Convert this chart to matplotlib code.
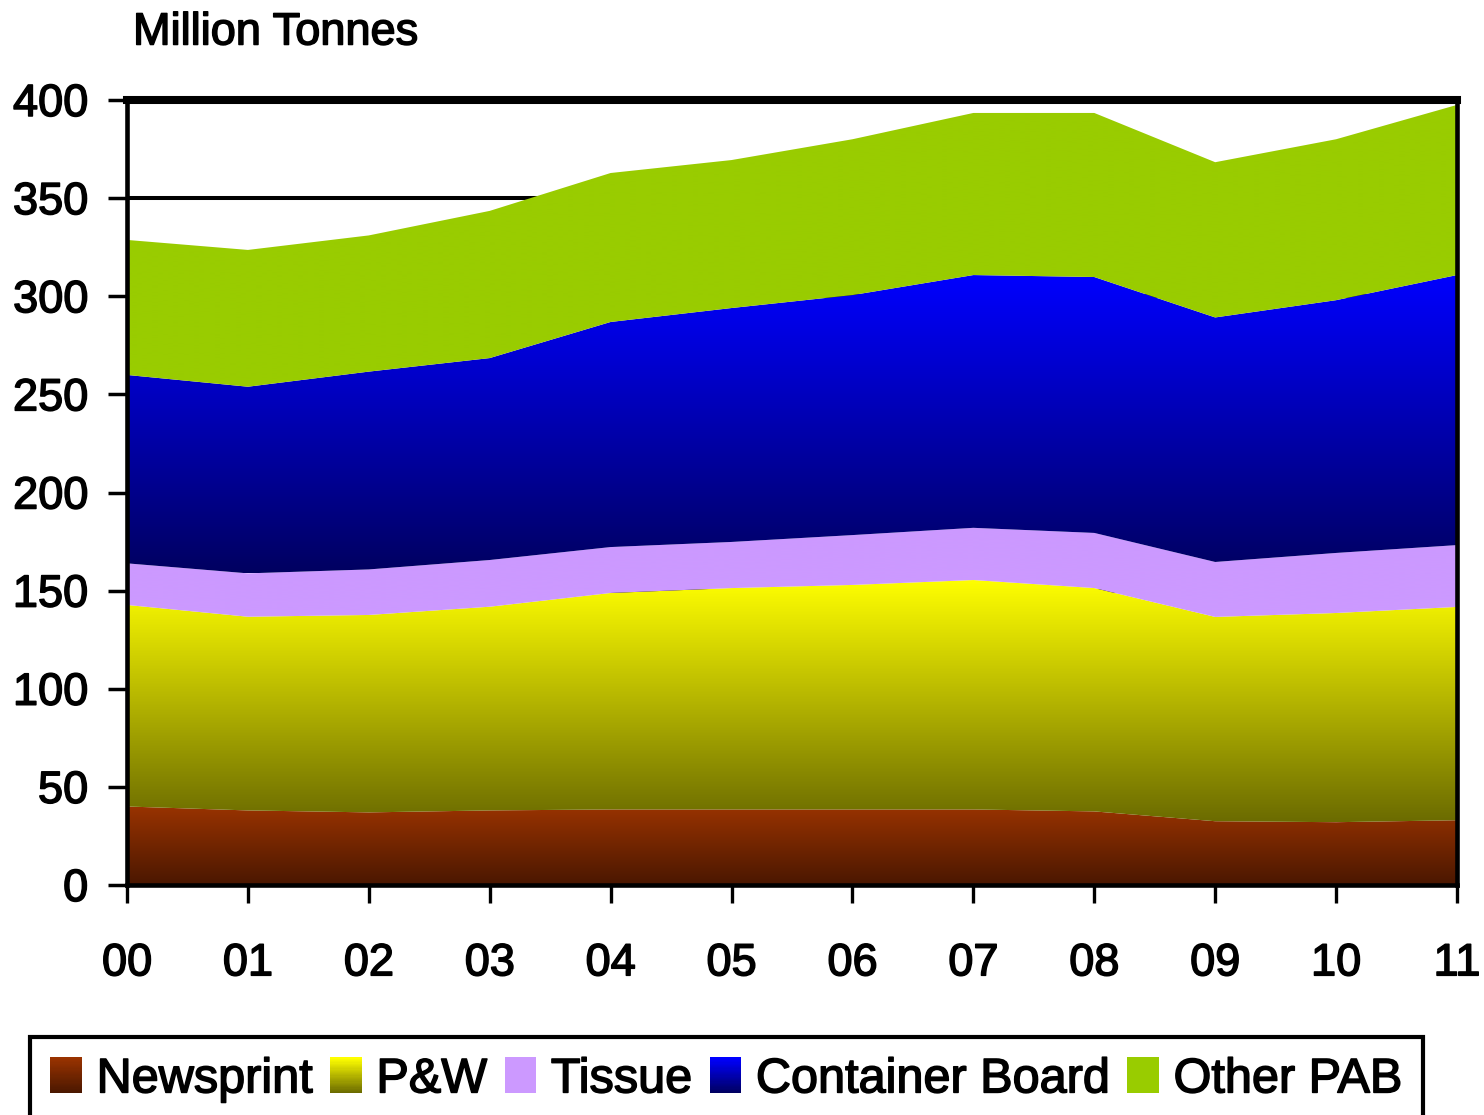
import numpy as np
import matplotlib
matplotlib.use("Agg")
import matplotlib.pyplot as plt
import matplotlib.patheffects as pe
from matplotlib.colors import LinearSegmentedColormap, to_rgb
from matplotlib.patches import PathPatch, Patch, Rectangle
from matplotlib.legend_handler import HandlerBase

plt.rcParams['font.family'] = ['Liberation Sans', 'DejaVu Sans']

# ---------------- data ----------------
years = ['00', '01', '02', '03', '04', '05', '06', '07', '08', '09', '10', '11']
series_names = ['Newsprint', 'P&W', 'Tissue', 'Container Board', 'Other PAB']
newsprint = [40.0, 38.0, 37.0, 38.0, 38.5, 38.5, 38.5, 38.5, 37.5, 32.5, 32.0, 33.0]
pw = [102.7, 98.7, 100.6, 103.8, 110.3, 112.8, 114.4, 116.9, 113.8, 104.1, 106.6, 108.7]
tissue = [21.2, 22.1, 23.2, 23.8, 23.4, 23.5, 25.4, 26.6, 28.1, 28.0, 30.6, 31.5]
container = [96.0, 95.1, 100.8, 102.9, 114.7, 119.2, 122.3, 128.8, 130.4, 124.6, 128.8, 137.6]
other = [68.8, 69.7, 69.4, 75.0, 75.9, 75.4, 79.4, 82.6, 83.6, 79.1, 82.0, 86.7]
y_ticks = [0, 50, 100, 150, 200, 250, 300, 350, 400]

# (top colour, bottom colour) per series
colors = [('#993300', '#4a1700'),
          ('#ffff00', '#6b6b00'),
          ('#cc99ff', '#cc99ff'),
          ('#0000ff', '#000060'),
          ('#99cc00', '#99cc00')]

W, H = 1484, 1115
fig = plt.figure(figsize=(W / 100, H / 100), dpi=100)
ax = fig.add_axes([127 / W, 1 - 885 / H, (1457 - 127) / W, (885 - 100) / H])

x = np.arange(len(years))
layers = [newsprint, pw, tissue, container, other]
base = np.zeros(len(years))
for vals, (ctop, cbot) in zip(layers, colors):
    top = base + np.array(vals)
    poly = ax.fill_between(x, base, top, facecolor='none', edgecolor='none', zorder=2)
    verts = poly.get_paths()[0]
    clip = PathPatch(verts, transform=ax.transData, facecolor='none', edgecolor='none')
    cmap = LinearSegmentedColormap.from_list('g', [cbot, ctop])
    grad = np.linspace(0, 1, 256).reshape(-1, 1)
    im = ax.imshow(grad, extent=[x[0], x[-1], base.min(), top.max()], origin='lower',
                   aspect='auto', cmap=cmap, zorder=2, interpolation='bilinear')
    im.set_clip_path(clip)
    base = top

ax.set_xlim(x[0], x[-1])
ax.set_ylim(0, 400)
ax.set_yticks(y_ticks)
ax.set_xticks(x)
ax.set_xticklabels(years)

ax.yaxis.grid(True, color='black', linewidth=2.9)
ax.set_axisbelow(True)

for side in ['left', 'right', 'bottom']:
    ax.spines[side].set_linewidth(3.3)
    ax.spines[side].set_zorder(5)
ax.spines['top'].set_linewidth(5.8)
ax.spines['top'].set_zorder(5)

heavy = [pe.withStroke(linewidth=1.1, foreground='black')]

ax.tick_params(axis='y', length=14, width=2.5, pad=14, labelsize=32.5, direction='out')
ax.tick_params(axis='x', length=13, width=2.4, pad=29, labelsize=32.5, direction='out')
for lab in ax.get_xticklabels() + ax.get_yticklabels():
    lab.set_path_effects(heavy)

fig.text(133 / W, 1 - 33 / H, 'Million Tonnes', fontsize=32.5, ha='left', va='center',
         path_effects=heavy)


class GradientHandler(HandlerBase):
    def __init__(self, ctop, cbot):
        super().__init__()
        self.ctop = np.array(to_rgb(ctop))
        self.cbot = np.array(to_rgb(cbot))

    def create_artists(self, legend, orig_handle, xdescent, ydescent, width, height,
                       fontsize, trans):
        n = 30
        arts = []
        for i in range(n):
            f = i / (n - 1)
            c = self.cbot * (1 - f) + self.ctop * f
            r = Rectangle((-xdescent, -ydescent + height * i / n), width, height / n + 0.3,
                          facecolor=c, edgecolor='none', transform=trans)
            arts.append(r)
        return arts


handles = [Patch(facecolor=c[0]) for c in colors]
hmap = {h: GradientHandler(*c) for h, c in zip(handles, colors)}
leg = fig.legend(handles, series_names, handler_map=hmap, loc='upper left',
                 bbox_to_anchor=(30 / W, 1 - 1037 / H), ncol=5, fontsize=35,
                 frameon=True, fancybox=False, framealpha=1, borderpad=0.42,
                 borderaxespad=0, handlelength=0.65, handleheight=0.75,
                 handletextpad=0.3, columnspacing=0.36)
leg.get_frame().set_edgecolor('black')
leg.get_frame().set_linewidth(3)
for t in leg.get_texts():
    t.set_path_effects(heavy)

fig.savefig('out.png', dpi=100)
